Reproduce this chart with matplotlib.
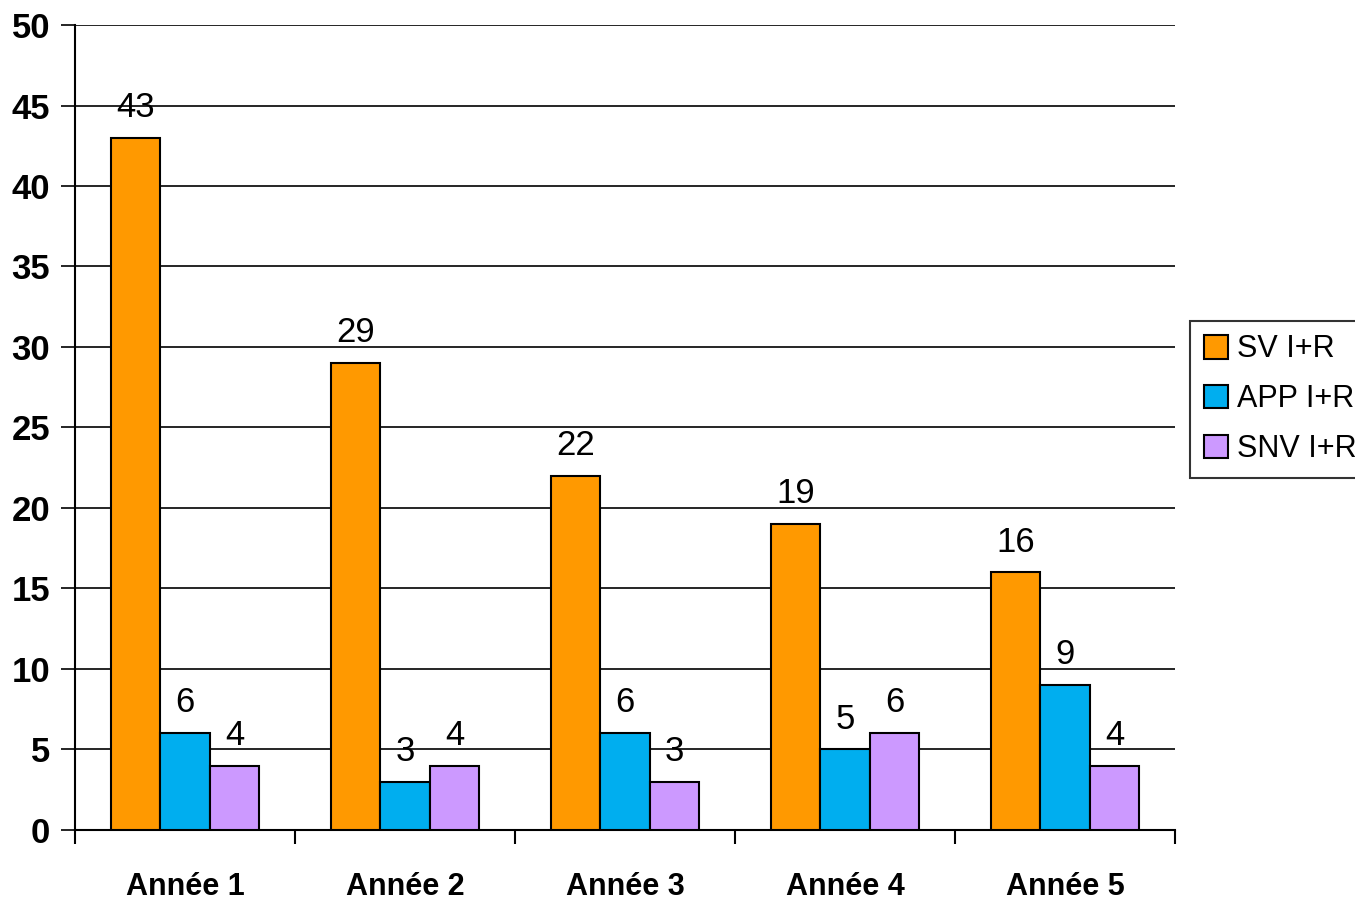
import numpy as np
import matplotlib
matplotlib.use("Agg")
import matplotlib.pyplot as plt

categories = ["Année 1", "Année 2", "Année 3", "Année 4", "Année 5"]
series_names = ["SV I+R", "APP I+R", "SNV I+R"]
sv = [43, 29, 22, 19, 16]
app = [6, 3, 6, 5, 9]
snv = [4, 4, 3, 6, 4]
colors = ["#FF9900", "#00AEEF", "#CC99FF"]

plt.rcParams["font.family"] = ["Liberation Sans Narrow", "Liberation Sans", "DejaVu Sans"]

fig = plt.figure(figsize=(13.55, 9.06), dpi=100)
ax = fig.add_axes([0.0554, 0.0839, 0.8118, 0.8885])

x = np.arange(len(categories))
w = 0.225
for i, (vals, name) in enumerate(zip([sv, app, snv], series_names)):
    bars = ax.bar(x + (i - 1) * w, vals, w, color=colors[i], edgecolor="black",
                  linewidth=1.5, label=name, zorder=3)
    ax.bar_label(bars, padding=10, fontsize=25)

ax.set_xlim(-0.5, 4.5)
ax.set_ylim(0, 50)
ax.set_yticks(range(0, 51, 5))
ax.yaxis.grid(True, color="black", linewidth=1.2, zorder=0)
ax.set_axisbelow(True)
for s in ["top", "right"]:
    ax.spines[s].set_visible(False)
for s in ["left", "bottom"]:
    ax.spines[s].set_linewidth(1.5)

ax.tick_params(axis="y", length=10, width=1.2, labelsize=25, pad=8)
for lab in ax.get_yticklabels():
    lab.set_fontweight("bold")

ax.set_xticks(np.arange(-0.5, 5, 1))
ax.set_xticklabels([])
ax.set_xticks(x, minor=True)
ax.set_xticklabels(categories, minor=True, fontsize=22, fontweight="bold")
ax.tick_params(axis="x", which="major", length=10, width=1.5, direction="out")
ax.tick_params(axis="x", which="minor", length=0, pad=30)

leg = ax.legend(loc="center left", bbox_to_anchor=(1.0136, 0.535), fontsize=22,
                frameon=True, fancybox=False, edgecolor="black", handlelength=0.8,
                handleheight=0.8, handletextpad=0.3, borderpad=0.45, labelspacing=0.65,
                borderaxespad=0)
leg.get_frame().set_linewidth(1.5)

fig.savefig("out.png", dpi=100)
